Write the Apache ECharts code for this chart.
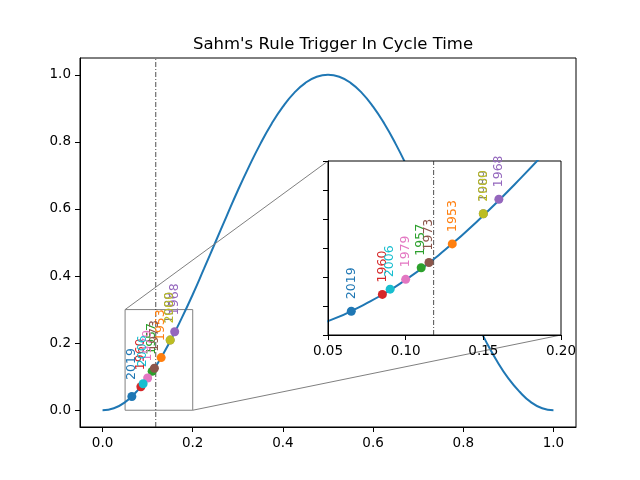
<!DOCTYPE html>
<html>
<head>
<meta charset="utf-8">
<script src="https://cdn.jsdelivr.net/npm/echarts@6/dist/echarts.min.js"></script>
<style>html,body{margin:0;padding:0;background:#fff}#c{width:640px;height:480px}</style>
</head>
<body>
<div id="c"></div>
<script>
// Curve
const curveX = [0,0.025,0.05,0.075,0.1,0.125,0.15,0.175,0.2,0.225,0.25,0.275,0.3,0.325,0.35,0.375,0.4,0.425,0.45,0.475,0.5,
  0.525,0.55,0.575,0.6,0.625,0.65,0.675,0.7,0.725,0.75,0.775,0.8,0.825,0.85,0.875,0.9,0.925,0.95,0.975,1.0];
const curveY = [0,0.006,0.024,0.055,0.095,0.146,0.206,0.273,0.345,0.422,0.5,0.578,0.655,0.727,0.794,0.854,0.905,0.946,0.976,0.994,1.0,
  0.994,0.976,0.946,0.905,0.854,0.794,0.727,0.655,0.578,0.5,0.422,0.345,0.273,0.206,0.146,0.095,0.055,0.024,0.006,0];
// Recession points
const years = ['2019','1953','1957','1960','1968','1973','1979','1989','2000','2006'];
const pointX = [0.065,0.130,0.110,0.085,0.160,0.115,0.100,0.150,0.150,0.090];
const pointY = [0.041,0.157,0.116,0.070,0.234,0.125,0.096,0.209,0.209,0.079];
const colors = ['#1f77b4','#ff7f0e','#2ca02c','#d62728','#9467bd','#8c564b','#e377c2','#7f7f7f','#bcbd22','#17becf'];
const triggerX = 0.118;
// Ticks
const mainXTicks = [0,0.2,0.4,0.6,0.8,1.0];
const mainYTicks = [0,0.2,0.4,0.6,0.8,1.0];
const insetXTicks = [0.05,0.10,0.15,0.20];
const insetYTicks = [0,0.05,0.1,0.15,0.2,0.25,0.3];
const zoomBox = {x0:0.05, x1:0.2, y0:0, y1:0.3};

const FONT = 'DejaVu Sans';
const chart = echarts.init(document.getElementById('c'));
const curve = curveX.map((x,i)=>[x,curveY[i]]);

function axisCommon(ticks, fmt, showLabel){
  return {
    axisLine:{show:true,onZero:false,lineStyle:{color:'#000',width:1}},
    axisTick:{show:true,inside:false,length:5,lineStyle:{color:'#000'},customValues:ticks},
    axisLabel:{show:showLabel,color:'#000',fontFamily:FONT,fontSize:13.5,margin:9,customValues:ticks,formatter:v=>fmt(v)},
    splitLine:{show:false}
  };
}

const series = [];
// main curve
series.push({type:'line',xAxisIndex:0,yAxisIndex:0,data:curve,smooth:true,showSymbol:false,symbol:'none',
  lineStyle:{color:'#1f77b4',width:2},z:2,silent:true});
// zoom box in main
series.push({type:'line',xAxisIndex:0,yAxisIndex:0,
  data:[[zoomBox.x0,zoomBox.y0],[zoomBox.x1,zoomBox.y0],[zoomBox.x1,zoomBox.y1],[zoomBox.x0,zoomBox.y1],[zoomBox.x0,zoomBox.y0]],
  showSymbol:false,symbol:'none',lineStyle:{color:'#808080',width:1},z:1,silent:true});
// trigger line main
series.push({type:'line',xAxisIndex:0,yAxisIndex:0,data:[[triggerX,-0.05],[triggerX,1.05]],showSymbol:false,symbol:'none',
  lineStyle:{color:'#222',width:0.8,type:[5,2,1,2]},z:3,silent:true});
// points main (gray one sits underneath olive)
years.forEach((yr,i)=>{
  series.push({type:'scatter',xAxisIndex:0,yAxisIndex:0,data:[[pointX[i],pointY[i]]],symbolSize:9,
    itemStyle:{color:colors[i],opacity:1},z:(i===7?3:4),silent:true,
    label:{show:true,formatter:yr,position:'top',distance:12,rotate:90,align:'left',verticalAlign:'middle',
      color:colors[i],fontFamily:FONT,fontSize:12.5}});
});
// inset curve
series.push({type:'line',xAxisIndex:1,yAxisIndex:1,data:curve,smooth:true,showSymbol:false,symbol:'none',clip:true,
  lineStyle:{color:'#1f77b4',width:2},z:10,silent:true});
series.push({type:'line',xAxisIndex:1,yAxisIndex:1,data:[[triggerX,0],[triggerX,0.3]],showSymbol:false,symbol:'none',
  lineStyle:{color:'#222',width:0.8,type:[5,2,1,2]},z:11,silent:true});
years.forEach((yr,i)=>{
  series.push({type:'scatter',xAxisIndex:1,yAxisIndex:1,data:[[pointX[i],pointY[i]]],symbolSize:9,
    itemStyle:{color:colors[i],opacity:1},z:(i===7?11.5:12),silent:true,
    label:{show:true,formatter:yr,position:'top',distance:7.5,rotate:90,align:'left',verticalAlign:'middle',
      color:colors[i],fontFamily:FONT,fontSize:12.5}});
});

const option = {
  animation:false,
  backgroundColor:'#fff',
  title:{text:"Sahm's Rule Trigger In Cycle Time",left:328,top:31,textAlign:'center',
    textStyle:{fontFamily:FONT,fontSize:16.5,fontWeight:'normal',color:'#000'}},
  grid:[
    {left:80,right:64,top:58,bottom:53,show:true,borderColor:'#000',borderWidth:1,backgroundColor:'transparent'},
    {left:328,right:79,top:161,bottom:145,show:false}
  ],
  xAxis:[
    Object.assign({type:'value',gridIndex:0,min:-0.05,max:1.05,z:3},axisCommon(mainXTicks,v=>v.toFixed(1),true)),
    Object.assign({type:'value',gridIndex:1,min:0.05,max:0.2,z:13},axisCommon(insetXTicks,v=>v.toFixed(2),true))
  ],
  yAxis:[
    Object.assign({type:'value',gridIndex:0,min:-0.05,max:1.05,z:3},axisCommon(mainYTicks,v=>v.toFixed(1),true)),
    Object.assign({type:'value',gridIndex:1,min:0,max:0.3,z:13},axisCommon(insetYTicks,v=>v.toFixed(2),false))
  ],
  series:series
};
chart.setOption(option);

// inset frame and connectors via library conversion
const m = {xAxisIndex:0,yAxisIndex:0};
const n = {xAxisIndex:1,yAxisIndex:1};
const iTL = chart.convertToPixel(n,[zoomBox.x0,zoomBox.y1]);
const iBR = chart.convertToPixel(n,[zoomBox.x1,zoomBox.y0]);
const mTL = chart.convertToPixel(m,[zoomBox.x0,zoomBox.y1]);
const mBR = chart.convertToPixel(m,[zoomBox.x1,zoomBox.y0]);
chart.setOption({graphic:[
  {type:'line',z:4,silent:true,shape:{x1:mTL[0],y1:mTL[1],x2:iTL[0],y2:iTL[1]},style:{stroke:'#808080',lineWidth:1}},
  {type:'line',z:4,silent:true,shape:{x1:mBR[0],y1:mBR[1],x2:iBR[0],y2:iBR[1]},style:{stroke:'#808080',lineWidth:1}},
  {type:'rect',z:5,silent:true,shape:{x:iTL[0],y:iTL[1],width:iBR[0]-iTL[0],height:iBR[1]-iTL[1]},
    style:{fill:'#fff',stroke:'#000',lineWidth:1}}
]});
</script>
</body>
</html>
